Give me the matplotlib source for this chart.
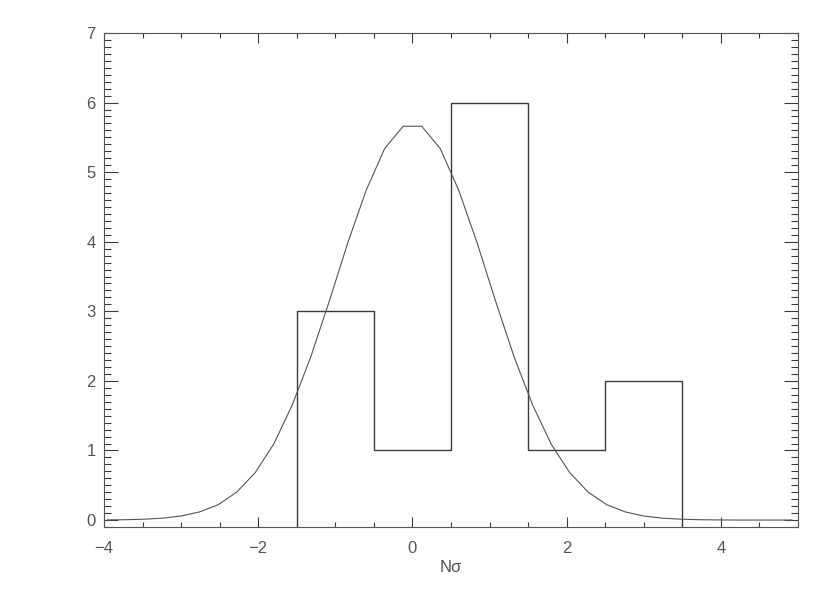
import matplotlib
matplotlib.use("Agg")
import matplotlib.pyplot as plt
from matplotlib.ticker import MultipleLocator

plt.rcParams['font.family'] = ['Liberation Sans', 'DejaVu Sans']

# Histogram data
bin_edges = [-1.5, -0.5, 0.5, 1.5, 2.5, 3.5]
counts = [3, 1, 6, 1, 2]

# Fitted curve
curve_x = [-3.96, -3.72, -3.48, -3.24, -3.00, -2.76, -2.52, -2.28, -2.04, -1.80,
           -1.56, -1.32, -1.08, -0.84, -0.60, -0.36, -0.12, 0.12, 0.36, 0.60,
           0.84, 1.08, 1.32, 1.56, 1.80, 2.04, 2.28, 2.52, 2.76, 3.00,
           3.24, 3.48, 3.72, 3.96, 4.20, 4.44, 4.68, 4.92]
curve_y = [0.002, 0.005, 0.012, 0.027, 0.058, 0.117, 0.22, 0.40, 0.68, 1.09,
           1.65, 2.34, 3.14, 3.98, 4.74, 5.34, 5.66, 5.66, 5.34, 4.74,
           3.98, 3.14, 2.34, 1.65, 1.09, 0.68, 0.40, 0.22, 0.117, 0.058,
           0.027, 0.012, 0.005, 0.002, 0.0, 0.0, 0.0, 0.0]

x_ticks = [-4, -2, 0, 2, 4]
x_tick_labels = ["\u22124", "\u22122", "0", "2", "4"]
y_ticks = [0, 1, 2, 3, 4, 5, 6, 7]
x_label = "Nσ"

fig = plt.figure(figsize=(8.30, 5.93), dpi=100)
ax = fig.add_axes([104/830, 1 - 527/593, (798 - 104)/830, (527 - 33)/593])

ax.set_xlim(-4, 5)
ax.set_ylim(-0.1, 7)

line_col = "#3a3a3a"
ax.plot(curve_x, curve_y, color="#555555", lw=0.8)
ax.stairs(counts, bin_edges, baseline=ax.get_ylim()[0], color=line_col, lw=1.0)

ax.set_xticks(x_ticks)
ax.set_xticklabels(x_tick_labels)
ax.set_yticks(y_ticks)
ax.xaxis.set_minor_locator(MultipleLocator(0.5))
ax.yaxis.set_minor_locator(MultipleLocator(0.1))

text_col = "#555555"
ax.tick_params(axis="x", which="major", direction="in", length=7.5, width=0.8,
               top=True, bottom=True, pad=10, labelsize=12, labelcolor=text_col, color=line_col)
ax.tick_params(axis="x", which="minor", direction="in", length=3.5, width=0.8,
               top=True, bottom=True, color=line_col)
ax.tick_params(axis="y", which="major", direction="in", length=10, width=0.8,
               left=True, right=True, pad=6, labelsize=12, labelcolor=text_col, color=line_col)
ax.tick_params(axis="y", which="minor", direction="in", length=5, width=0.8,
               left=True, right=True, color=line_col)

for s in ax.spines.values():
    s.set_color("#555555")
    s.set_linewidth(0.8)

ax.set_xlabel(x_label, fontsize=12, color=text_col, labelpad=3)

fig.savefig("out.png", dpi=100)
